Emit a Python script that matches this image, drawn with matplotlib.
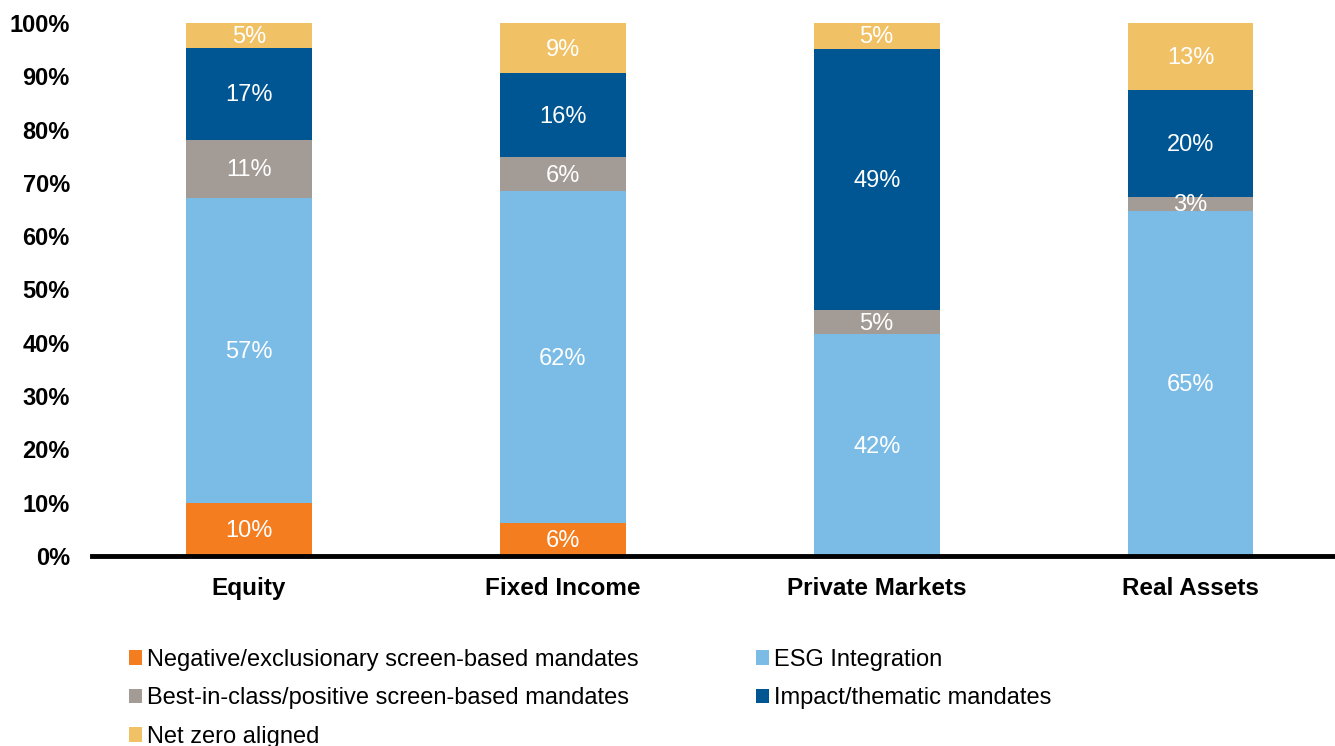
import numpy as np
import matplotlib.pyplot as plt

# Share of sustainable mandates by asset class (%)
categories = ["Equity", "Fixed Income", "Private Markets", "Real Assets"]
series = [
    "Negative/exclusionary screen-based mandates",
    "ESG Integration",
    "Best-in-class/positive screen-based mandates",
    "Impact/thematic mandates",
    "Net zero aligned",
]
negative = [10.0, 6.1, 0.0, 0.0]
esg = [57.2, 62.4, 41.6, 64.8]
best_in_class = [10.9, 6.3, 4.6, 2.6]
impact = [17.3, 15.8, 49.0, 20.0]
net_zero = [4.6, 9.4, 4.8, 12.6]
colors = ["#F47D20", "#7BBCE7", "#A39B95", "#005593", "#F0C165"]

plt.rcParams['font.family'] = ['Liberation Sans', 'DejaVu Sans']

fig = plt.figure(figsize=(13.35, 7.46), dpi=100)
ax = fig.add_axes([92 / 1335, 1 - 556 / 746, 1 - 92 / 1335, 533 / 746])

x = np.arange(len(categories))
bottom = np.zeros(len(categories))
handles = []
for name, vals, c in zip(series, [negative, esg, best_in_class, impact, net_zero], colors):
    vals = np.array(vals)
    bars = ax.bar(x, vals, 0.4, bottom=bottom, color=c, label=name, zorder=2)
    handles.append(bars)
    for xi, b, v in zip(x, bottom, vals):
        if v > 0:
            ax.text(xi, b + v / 2 - 0.3, f"{v:.0f}%", ha='center', va='center',
                    color='white', fontsize=17)
    bottom += vals

ax.set_xlim(-0.5, 3.46)
ax.set_ylim(0, 100)
ax.set_yticks(range(0, 101, 10))
ax.set_yticklabels([f"{v}%" for v in range(0, 101, 10)], fontsize=17, fontweight='bold')
ax.set_xticks(x)
ax.set_xticklabels(categories, fontsize=17.5, fontweight='bold')
ax.tick_params(axis='y', length=0, pad=16)
ax.tick_params(axis='x', length=0, pad=15)
for s in ('top', 'right', 'left'):
    ax.spines[s].set_visible(False)
ax.spines['bottom'].set_linewidth(3.5)
ax.spines['bottom'].set_zorder(3)

# column-major order so the legend reads row by row
order = [0, 2, 4, 1, 3]
leg = fig.legend([handles[i] for i in order], [series[i] for i in order],
                 loc='upper left', bbox_to_anchor=(110 / 1335, 1 - 630 / 746),
                 ncol=2, frameon=False, handlelength=0.55, handleheight=0.55,
                 handletextpad=0.2, columnspacing=5.0, labelspacing=0.7,
                 borderpad=0.3, prop={'size': 17})

fig.savefig("out.png", dpi=100)
